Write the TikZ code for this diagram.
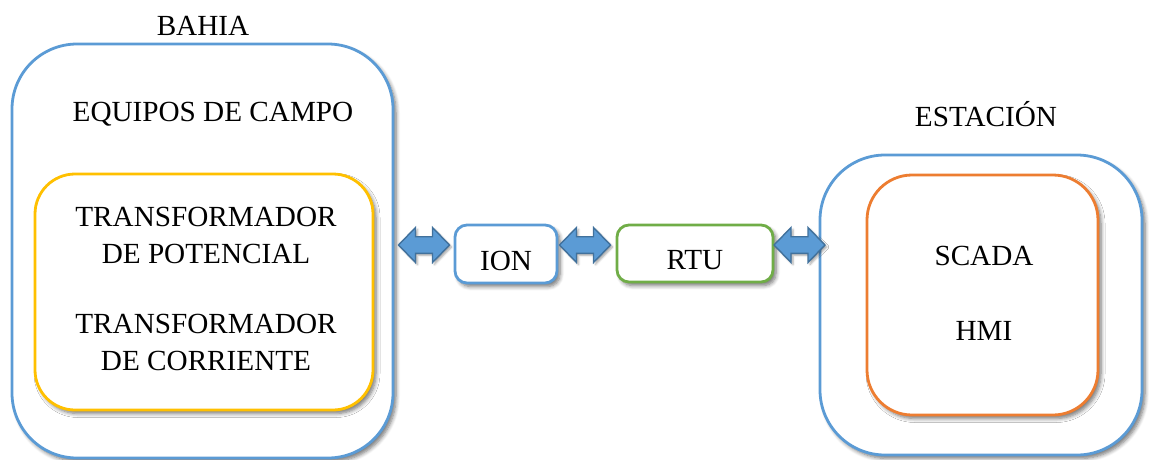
\documentclass[tikz,border=0pt]{standalone}
\usepackage{fontspec}
\setmainfont{Liberation Serif}
\usetikzlibrary{shadows,shadows.blur,calc}
\definecolor{bluebox}{HTML}{5B9BD5}
\definecolor{yellowbox}{HTML}{FFC000}
\definecolor{greenbox}{HTML}{70AD47}
\definecolor{orangebox}{HTML}{ED7D31}
\definecolor{arrowline}{HTML}{41719C}
\newcommand\dblarr[3]{%
  \path[arr] let \p1=($(#1)!0.5!(#2)$), \p3=(ay) in
    (\x1-25.5pt+#3,\y3) -- (\x1-8.5pt+#3,\y3+17.5pt) -- (\x1-8.5pt+#3,\y3+8.3pt)
    -- (\x1+8.5pt+#3,\y3+8.3pt) -- (\x1+8.5pt+#3,\y3+17.5pt) -- (\x1+25.5pt+#3,\y3)
    -- (\x1+8.5pt+#3,\y3-17.5pt) -- (\x1+8.5pt+#3,\y3-8.3pt) -- (\x1-8.5pt+#3,\y3-8.3pt)
    -- (\x1-8.5pt+#3,\y3-17.5pt) -- cycle;}
\begin{document}
\begin{tikzpicture}[x=1pt,y=-1pt,
  box/.style={draw, line width=2.8pt, fill=white, rounded corners=#1,
    blur shadow={shadow xshift=3pt,shadow yshift=-3.5pt,shadow blur radius=4pt,
      shadow blur steps=6,shadow opacity=55},
    inner sep=0pt, outer sep=0pt},
  lbl/.style={font=\fontsize{29.2}{35}\selectfont, inner sep=0pt, anchor=base},
  arr/.style={fill=bluebox, draw=arrowline, line width=1.4pt, line join=miter,
    blur shadow={shadow xshift=2pt,shadow yshift=-2pt,shadow blur radius=2pt,
      shadow blur steps=4,shadow opacity=35}}]
\useasboundingbox (0,0) rectangle (1149,459);
\coordinate (ay) at (0,245);
% Bahia
\node[box=65pt, draw=bluebox, minimum width=381pt, minimum height=414pt] (bahia) at (202.5,251) {};
\node[box=40pt, draw=yellowbox, minimum width=338pt, minimum height=236pt] (campo) at (204,292) {};
\node[lbl] (tbahia) at (203,35) {BAHIA};
\node[lbl] (tequipos) at (213,121.5) {EQUIPOS DE CAMPO};
\node[lbl] (tt1) at (206,226) {TRANSFORMADOR};
\node[lbl] (tt2) at (206,263) {DE POTENCIAL};
\node[lbl] (tt3) at (206,333) {TRANSFORMADOR};
\node[lbl] (tt4) at (206,370) {DE CORRIENTE};
% ION, RTU
\node[box=12pt, draw=bluebox, minimum width=102pt, minimum height=58pt] (ion) at (506,254) {};
\node[lbl] (tion) at (506,270) {ION};
\node[box=12pt, draw=greenbox, minimum width=156pt, minimum height=57pt] (rtu) at (695,253.5) {};
\node[lbl] (trtu) at (695,269) {RTU};
% Estacion
\node[box=65pt, draw=bluebox, minimum width=322pt, minimum height=300pt] (estacion) at (981,305) {};
\node[box=45pt, draw=orangebox, minimum width=231pt, minimum height=240pt] (scada) at (982.5,295) {};
\node[lbl] (testacion) at (986,126.5) {ESTACIÓN};
\node[lbl] (tscada) at (984,265) {SCADA};
\node[lbl] (thmi) at (984,340.5) {HMI};
% arrows
\dblarr{bahia.east}{ion.west}{0pt}
\dblarr{ion.east}{rtu.west}{-2pt}
\dblarr{rtu.east}{estacion.west}{3pt}
\end{tikzpicture}
\end{document}
